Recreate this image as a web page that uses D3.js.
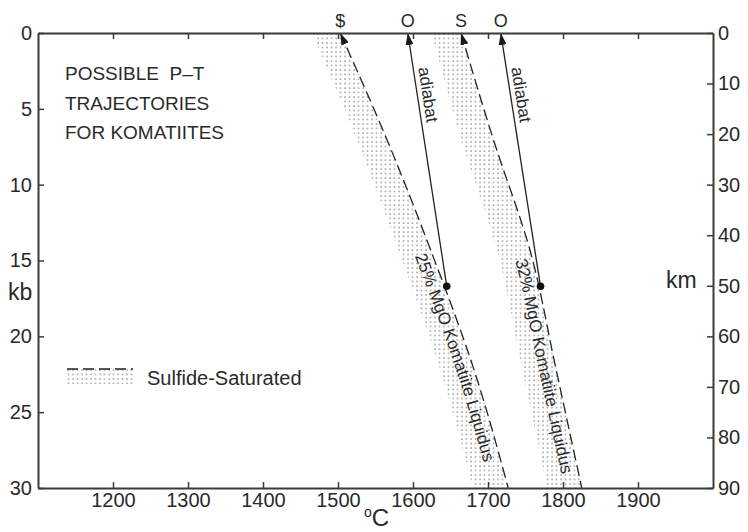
<!DOCTYPE html>
<html>
<head>
<meta charset="utf-8">
<script src="https://cdn.jsdelivr.net/npm/d3@7"></script>
<style>
  body { margin: 0; background: #fff; }
  svg { font-family: "Liberation Sans", Arial, Helvetica, sans-serif; }
  text { fill: #2a2a2a; }
</style>
</head>
<body>
<div id="chart"></div>
<script>
const pressures = [0, 7, 14.5, 22, 30];
// 25% MgO komatiite liquidus and left edge of its sulfide band (deg C)
const liq25 = [1503, 1565, 1625, 1680, 1727];
const band25 = [1465, 1525, 1582, 1635, 1680];
// 32% MgO komatiite liquidus and its band
const liq32 = [1664, 1707, 1757, 1790, 1825];
const band32 = [1625, 1664, 1713, 1745, 1779];
// adiabats: T at 0 kb, and the starting point on the liquidus
const adiabatTop = [1593, 1717];
const adiabatStartT = [1645, 1770];
const adiabatStartP = [16.7, 16.7];
const liqLabels = ['25% MgO Komatiite Liquidus', '32% MgO Komatiite Liquidus'];
const topLabels = ['$', 'O', 'S', 'O'];
const topLabelT = [1503, 1593, 1664, 1717];
const xTicks = [1200, 1300, 1400, 1500, 1600, 1700, 1800, 1900];
const kbTicks = [0, 5, 10, 15, 20, 25, 30];
const kmTicks = [0, 10, 20, 30, 40, 50, 60, 70, 80, 90];

const W = 748, H = 532;
const margin = { top: 33, right: 35, bottom: 44, left: 38 };
const width = W - margin.left - margin.right;
const height = H - margin.top - margin.bottom;

const svg = d3.select('#chart').append('svg')
  .attr('width', W)
  .attr('height', H);

const defs = svg.append('defs');
const pat = defs.append('pattern')
  .attr('id', 'dots')
  .attr('patternUnits', 'userSpaceOnUse')
  .attr('width', 4.5).attr('height', 4.5);
pat.append('rect').attr('x', 0.3).attr('y', 0.3).attr('width', 1.5).attr('height', 1.5).attr('fill', '#9a9a9a');

defs.append('marker')
  .attr('id', 'arrow')
  .attr('viewBox', '0 0 12 8')
  .attr('refX', 12).attr('refY', 4)
  .attr('markerWidth', 12).attr('markerHeight', 8)
  .attr('markerUnits', 'userSpaceOnUse')
  .attr('orient', 'auto-start-reverse')
  .append('path')
  .attr('d', 'M0,0 L12,4 L0,8 Z')
  .attr('fill', '#1a1a1a');

const g = svg.append('g')
  .attr('transform', `translate(${margin.left},${margin.top})`);

const x = d3.scaleLinear().domain([1100, 2000]).range([0, width]);
const y = d3.scaleLinear().domain([0, 30]).range([0, height]);
const yKm = d3.scaleLinear().domain([0, 90]).range([0, height]);

// sulfide-saturated bands
const area = d3.area()
  .y(d => y(d.p))
  .x0(d => x(d.lo))
  .x1(d => x(d.hi))
  .curve(d3.curveMonotoneY);

const line = d3.line()
  .x(d => x(d.t))
  .y(d => y(d.p))
  .curve(d3.curveMonotoneY);

[[band25, liq25], [band32, liq32]].forEach(([lo, hi], i) => {
  const pts = pressures.map((p, j) => ({ p: p, lo: lo[j], hi: hi[j] }));
  g.append('path')
    .datum(pts)
    .attr('d', area)
    .attr('fill', 'url(#dots)');

  g.append('path')
    .datum(pressures.map((p, j) => ({ p: p, t: hi[j] })))
    .attr('id', 'liq' + i)
    .attr('d', line)
    .attr('fill', 'none')
    .attr('stroke', '#222')
    .attr('stroke-width', 1.3)
    .attr('stroke-dasharray', '11,5')
    .attr('marker-start', 'url(#arrow)');

  g.append('text')
    .attr('font-size', 17)
    .attr('dy', 17)
    .append('textPath')
    .attr('href', '#liq' + i)
    .attr('startOffset', i === 0 ? '71%' : '73%')
    .attr('text-anchor', 'middle')
    .text(liqLabels[i]);
});

// adiabats
adiabatTop.forEach((t0, i) => {
  const pts = [{ t: t0, p: 0 }, { t: adiabatStartT[i], p: adiabatStartP[i] }];
  g.append('path')
    .datum(pts)
    .attr('id', 'adia' + i)
    .attr('d', d3.line().x(d => x(d.t)).y(d => y(d.p)))
    .attr('fill', 'none')
    .attr('stroke', '#222')
    .attr('stroke-width', 1.3)
    .attr('marker-start', 'url(#arrow)');

  g.append('circle')
    .attr('cx', x(adiabatStartT[i]))
    .attr('cy', y(adiabatStartP[i]))
    .attr('r', 3.8)
    .attr('fill', '#111');

  g.append('text')
    .attr('font-size', 17)
    .attr('dy', -5)
    .append('textPath')
    .attr('href', '#adia' + i)
    .attr('startOffset', '25%')
    .attr('text-anchor', 'middle')
    .text('adiabat');
});

// axes
function styleAxis(sel) {
  sel.selectAll('.domain').attr('stroke', '#3a3a3a').attr('stroke-width', 2);
  sel.selectAll('.tick line').attr('stroke', '#3a3a3a').attr('stroke-width', 1.5);
  sel.selectAll('.tick text').attr('fill', '#2a2a2a').attr('font-size', 20)
    .attr('font-family', '"Liberation Sans", Arial, sans-serif');
}

g.append('g')
  .attr('transform', `translate(0,${height})`)
  .call(d3.axisBottom(x).tickValues(xTicks).tickFormat(d3.format('d'))
    .tickSizeInner(-6).tickSizeOuter(0).tickPadding(5))
  .call(styleAxis);

g.append('g')
  .call(d3.axisTop(x).tickValues(xTicks).tickSizeInner(-6).tickSizeOuter(0).tickFormat(''))
  .call(styleAxis);

g.append('g')
  .call(d3.axisLeft(y).tickValues(kbTicks).tickSizeInner(-6).tickSizeOuter(0).tickPadding(6))
  .call(styleAxis);

g.append('g')
  .attr('transform', `translate(${width},0)`)
  .call(d3.axisRight(yKm).tickValues(kmTicks).tickSizeInner(-6).tickSizeOuter(0).tickPadding(5))
  .call(styleAxis);

// labels above top axis
topLabels.forEach((s, i) => {
  g.append('text')
    .attr('x', x(topLabelT[i]))
    .attr('y', -6)
    .attr('text-anchor', 'middle')
    .attr('font-size', 18)
    .text(s);
});

// title block
const title = ['POSSIBLE\u00a0\u00a0P\u2013T', 'TRAJECTORIES', 'FOR KOMATIITES'];
title.forEach((s, i) => {
  svg.append('text')
    .attr('x', 65)
    .attr('y', 80 + i * 29.5)
    .attr('font-size', 19)
    .text(s);
});

// axis titles
svg.append('text').attr('x', 8).attr('y', 300).attr('font-size', 23).text('kb');
svg.append('text').attr('x', 666).attr('y', 288).attr('font-size', 23).text('km');
const deg = svg.append('text').attr('x', 364).attr('y', 526).attr('font-size', 24);
deg.append('tspan').attr('font-size', 14).attr('dy', -9).text('o');
deg.append('tspan').attr('dy', 9).text('C');

// legend
svg.append('rect')
  .attr('x', 67).attr('y', 369)
  .attr('width', 66).attr('height', 15)
  .attr('fill', 'url(#dots)');
svg.append('line')
  .attr('x1', 67).attr('x2', 133)
  .attr('y1', 369).attr('y2', 369)
  .attr('stroke', '#222')
  .attr('stroke-width', 1.3)
  .attr('stroke-dasharray', '11,5');
svg.append('text')
  .attr('x', 147).attr('y', 385)
  .attr('font-size', 20)
  .text('Sulfide-Saturated');
</script>
</body>
</html>
